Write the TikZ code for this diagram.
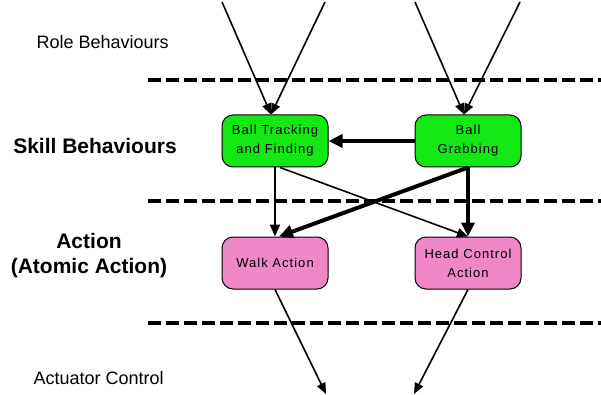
\documentclass[tikz,border=0pt]{standalone}
\usepackage{fontspec}
\setmainfont{Liberation Sans}
\newfontfamily\boxfont[LetterSpace=8]{Liberation Sans}
\usetikzlibrary{arrows.meta}
\definecolor{skillgreen}{RGB}{20,232,20}
\definecolor{actionpink}{RGB}{240,136,200}
\begin{document}
\begin{tikzpicture}[x=1pt,y=-1pt,
  layerline/.style={line width=4pt,dash pattern=on 13pt off 5pt},
  boxnode/.style={draw=black,line width=1pt,rounded corners=11pt,
    minimum width=106pt,minimum height=52pt,align=center,
    font=\boxfont\fontsize{13}{19}\selectfont},
  skill/.style={boxnode,fill=skillgreen},
  act/.style={boxnode,fill=actionpink},
  layerlabel/.style={font=\fontsize{18}{20}\selectfont},
  levellabel/.style={font=\bfseries\fontsize{21}{25}\selectfont,align=center},
  thinarr/.style={line width=1.6pt,-{Triangle[length=11pt,width=9pt]}},
  midarr/.style={line width=2.2pt,-{Triangle[length=12pt,width=10pt]}},
  thickarr/.style={line width=4pt,-{Triangle[length=14pt,width=13pt]}},
]
\useasboundingbox (0,0) rectangle (601,395);

% layer separators
\draw[layerline] (148,80) -- (601,80);
\draw[layerline] (148,201) -- (601,201);
\draw[layerline] (148,323) -- (601,323);

% layer labels
\node[layerlabel,anchor=west] (role) at (33,42) {Role Behaviours};
\node[levellabel] (skilllbl) at (95,146) {Skill Behaviours};
\node[levellabel] (actlbl) at (89,256) {Action\\(Atomic Action)};
\node[layerlabel,anchor=west] (actu) at (30,378) {Actuator Control};

% behaviour and action nodes
\node[skill] (bt) at (275,141) {Ball Tracking\\and Finding};
\node[skill] (bg) at (468,141) {Ball\\Grabbing};
\node[act] (wa) at (275,263) {Walk Action};
\node[act] (hc) at (468,263) {Head Control\\Action};

% connector ends outside the nodes
\coordinate (in1) at (222,2);
\coordinate (in2) at (325,2);
\coordinate (in3) at (415,2);
\coordinate (in4) at (520,2);
\coordinate (out1) at (326,394);
\coordinate (out2) at (414,394);

% inputs from the role layer
\draw[thinarr] (in1) -- ([xshift=-4pt]bt.north);
\draw[thinarr] (in2) -- ([xshift=-4pt]bt.north);
\draw[thinarr] (in3) -- ([xshift=-4pt]bg.north);
\draw[thinarr] (in4) -- ([xshift=-4pt]bg.north);

% skill-level links
\draw[thickarr] (bg.west) -- (bt.east);
\draw[midarr] (bt.south) -- (wa.north);
\draw[thinarr] ([xshift=5pt]bt.south) -- (hc.north);
\draw[thickarr] (bg.south) -- ([xshift=4pt]wa.north);
\draw[thickarr] (bg.south) -- (hc.north);

% outputs to actuator control
\draw[thinarr] (wa.south) -- (out1);
\draw[thinarr] (hc.south) -- (out2);
\end{tikzpicture}
\end{document}
